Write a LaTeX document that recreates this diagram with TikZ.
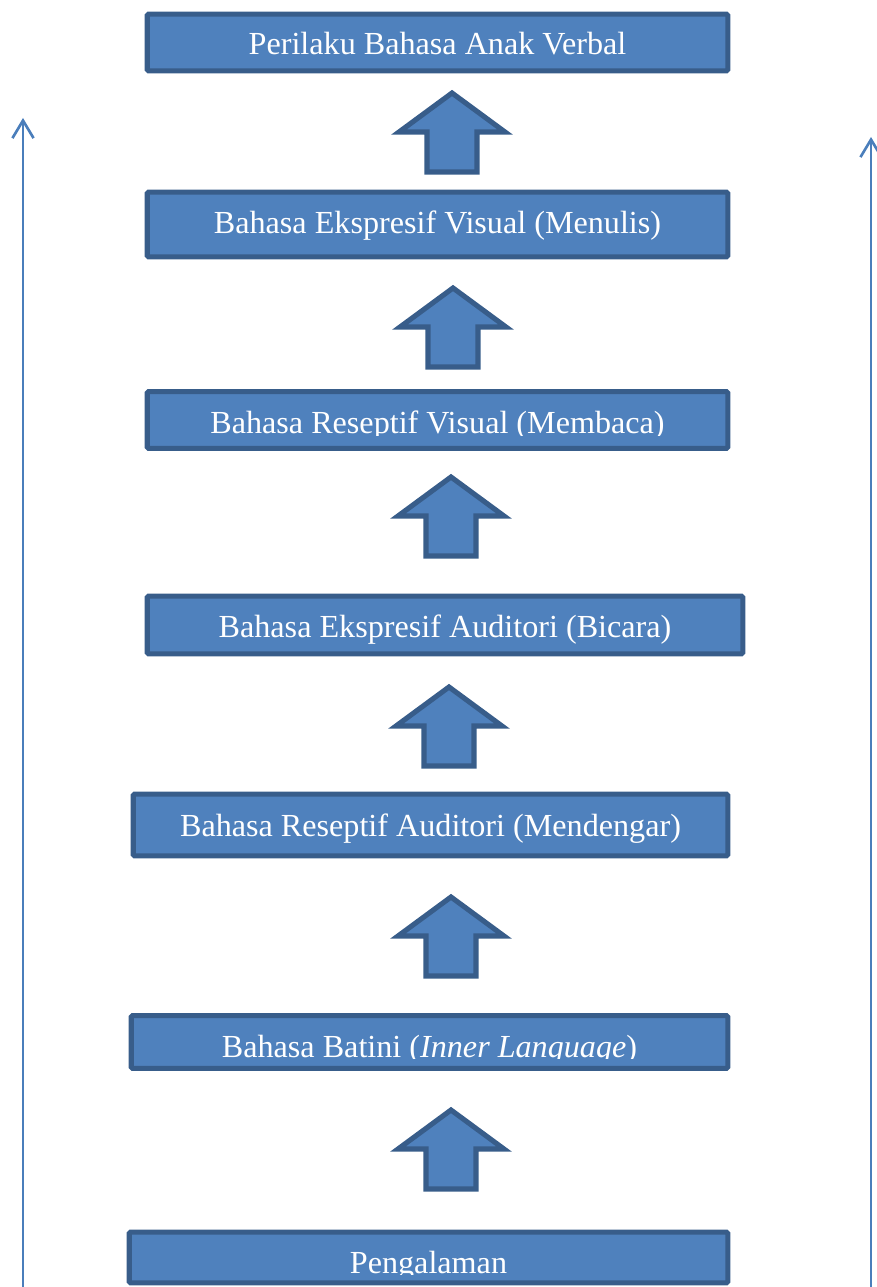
\documentclass[tikz,border=0pt]{standalone}
\usepackage{fontspec}
\setmainfont{Liberation Serif}
\usetikzlibrary{arrows.meta}

\definecolor{isiBiru}{HTML}{4F81BD}
\definecolor{tepiBiru}{HTML}{385D8A}
\definecolor{garisBiru}{HTML}{4A7EBB}

\tikzset{
  kotak/.style={fill=isiBiru, inner sep=0pt},
  tepi/.style={draw=tepiBiru, line width=2.9pt, rounded corners=0.8pt},
  teks/.style={text=white, anchor=base, inner sep=0pt, font=\fontsize{18.3}{21}\selectfont},
  panah/.style={fill=isiBiru, draw=tepiBiru, line width=2.9pt, line join=miter},
  garis/.style={draw=garisBiru, line width=1.5pt, -{Straight Barb[length=10pt,width=12pt]}}
}

\begin{document}
\begin{tikzpicture}[x=0.02cm, y=-0.02cm]
  \useasboundingbox (0,0) rectangle (876,1287);

  % Coordinates
  \coordinate (kiriBawah) at (23,1287);
  \coordinate (kiriAtas) at (23,118);
  \coordinate (kananBawah) at (871,1287);
  \coordinate (kananAtas) at (871,137);

  % Side lines
  \draw[garis] (kiriBawah) -- (kiriAtas);
  \draw[garis] (kananBawah) -- (kananAtas);

  % Boxes
  \node[kotak, minimum width=11.60cm, minimum height=1.12cm] (b1) at (437.5,42.5) {};
  \node[teks] (t1) at (437.5,55) {Perilaku Bahasa Anak Verbal};
  \draw[tepi] (b1.south west) rectangle (b1.north east);

  \node[kotak, minimum width=11.60cm, minimum height=1.28cm] (b2) at (437.5,224.5) {};
  \node[teks] (t2) at (437.5,234) {Bahasa Ekspresif Visual (Menulis)};
  \draw[tepi] (b2.south west) rectangle (b2.north east);

  \node[kotak, minimum width=11.60cm, minimum height=1.12cm] (b3) at (437.5,420) {};
  \begin{scope}
    \clip (b3.north west) rectangle (b3.east |- 0,435);
    \node[teks] (t3) at (437.5,433) {Bahasa Reseptif Visual (Membaca)};
  \end{scope}
  \draw[tepi] (b3.south west) rectangle (b3.north east);

  \node[kotak, minimum width=11.90cm, minimum height=1.14cm] (b4) at (445,625) {};
  \node[teks] (t4) at (445,637) {Bahasa Ekspresif Auditori (Bicara)};
  \draw[tepi] (b4.south west) rectangle (b4.north east);

  \node[kotak, minimum width=11.88cm, minimum height=1.22cm] (b5) at (430.5,825) {};
  \node[teks] (t5) at (430.5,836) {Bahasa Reseptif Auditori (Mendengar)};
  \draw[tepi] (b5.south west) rectangle (b5.north east);

  \node[kotak, minimum width=11.92cm, minimum height=1.04cm] (b6) at (429.5,1042) {};
  \begin{scope}
    \clip (b6.north west) rectangle (b6.east |- 0,1058.5);
    \node[teks] (t6) at (429.5,1057) {Bahasa Batini (\textit{Inner Language})};
  \end{scope}
  \draw[tepi] (b6.south west) rectangle (b6.north east);

  \node[kotak, minimum width=11.96cm, minimum height=1.00cm] (b7) at (428.5,1257.5) {};
  \begin{scope}
    \clip (b7.north west) rectangle (b7.east |- 0,1274.5);
    \node[teks] (t7) at (428.5,1273) {Pengalaman};
  \end{scope}
  \draw[tepi] (b7.south west) rectangle (b7.north east);

  % Block arrows
  \foreach \x/\y in {452/93, 453/288, 451/477, 449/687, 451/897, 451/1110}
    \draw[panah] (\x,\y) -- ++(53,39) -- ++(-28,0) -- ++(0,40) -- ++(-50,0)
      -- ++(0,-40) -- ++(-28,0) -- cycle;
\end{tikzpicture}
\end{document}
